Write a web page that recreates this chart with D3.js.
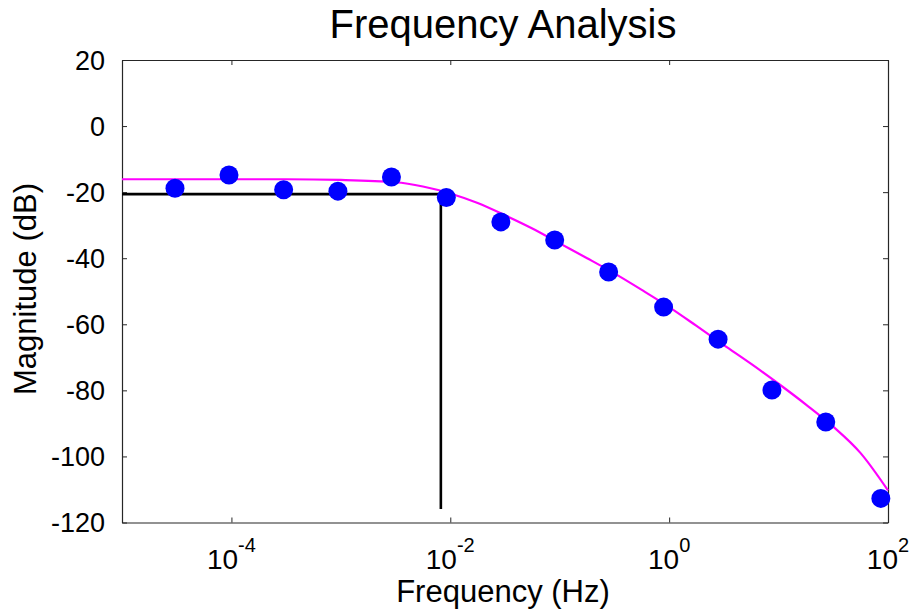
<!DOCTYPE html>
<html lang="en">
<head>
<meta charset="UTF-8">
<title>Frequency Analysis</title>
<script src="https://d3js.org/d3.v7.min.js"></script>
<style>
  body { margin: 0; background: #fff; }
  text { font-family: "Liberation Sans", Arial, sans-serif; fill: #000; }
</style>
</head>
<body>
<script>
// measured points
const measFreq = [3.05e-5, 9.5e-5, 3.0e-4, 9.4e-4, 2.9e-3, 9.2e-3, 2.9e-2, 9.0e-2, 0.28, 0.89, 2.8, 8.7, 27, 86];
const measDb   = [-18.8, -14.8, -19.3, -19.7, -15.4, -21.6, -29.0, -34.5, -44.2, -54.8, -64.5, -79.9, -89.6, -112.7];

// fitted curve (magenta)
const fitFreq = [1e-5, 1e-4, 3.16e-4, 1e-3, 3.16e-3, 5.62e-3, 1e-2, 1.78e-2, 3.16e-2, 5.62e-2, 0.1, 0.178, 0.316, 0.562,
                 1, 1.78, 3.16, 5.62, 10, 17.8, 31.6, 56.2, 100];
const fitDb   = [-16.1, -16.1, -16.1, -16.3, -17.0, -18.3, -20.4, -23.3, -27.0, -31.0, -35.5, -40.0, -44.6, -49.6,
                 -54.8, -60.5, -66.3, -72.0, -78.0, -84.3, -91.0, -99.0, -110.3];

// cutoff marker lines (black)
const cutFreq = [1e-5, 0.0082, 0.0082];
const cutDb   = [-20.6, -20.6, -115.9];

const xTicks = [1e-4, 1e-2, 1, 1e2];
const xTickExp = ["-4", "-2", "0", "2"];
const yTicks = [-120, -100, -80, -60, -40, -20, 0, 20];

const W = 917, H = 613;
const m = { left: 122, right: 888, top: 60, bottom: 522.5 };

const svg = d3.select("body").append("svg")
    .attr("width", W)
    .attr("height", H);

const x = d3.scaleLog().domain([1e-5, 1e2]).range([m.left, m.right]);
const y = d3.scaleLinear().domain([-120, 20]).range([m.bottom, m.top]);

// box axes with inward ticks
const axColor = "#262626";
function styleAxis(g) {
    g.select(".domain").attr("stroke", axColor).attr("stroke-width", 1.2);
    g.selectAll(".tick line").attr("stroke", axColor);
}

svg.append("g")
   .attr("transform", "translate(0," + m.bottom + ")")
   .call(d3.axisBottom(x).tickValues(xTicks).tickSize(-5).tickSizeOuter(0).tickFormat(""))
   .call(styleAxis);
svg.append("g")
   .attr("transform", "translate(0," + m.top + ")")
   .call(d3.axisTop(x).tickValues(xTicks).tickSize(-5).tickSizeOuter(0).tickFormat(""))
   .call(styleAxis);
svg.append("g")
   .attr("transform", "translate(" + m.left + ",0)")
   .call(d3.axisLeft(y).tickValues(yTicks).tickSize(-5).tickSizeOuter(0).tickFormat(""))
   .call(styleAxis);
svg.append("g")
   .attr("transform", "translate(" + m.right + ",0)")
   .call(d3.axisRight(y).tickValues(yTicks).tickSize(-5).tickSizeOuter(0).tickFormat(""))
   .call(styleAxis);

// y tick labels
svg.append("g").selectAll("text")
   .data(yTicks)
   .enter().append("text")
   .attr("x", m.left - 17)
   .attr("y", d => y(d))
   .attr("dy", "0.36em")
   .attr("text-anchor", "end")
   .style("font-size", "27px")
   .text(d => d);

// x tick labels: 10^n
const xl = svg.append("g").selectAll("text")
   .data(xTicks)
   .enter().append("text")
   .attr("x", d => x(d))
   .attr("y", m.bottom + 46)
   .attr("text-anchor", "middle")
   .style("font-size", "28px");
xl.append("tspan").text("10");
xl.append("tspan")
  .attr("dy", -17)
  .style("font-size", "20px")
  .text((d, i) => xTickExp[i]);

// fitted curve
const line = d3.line()
    .x(d => x(d[0]))
    .y(d => y(d[1]))
    .curve(d3.curveMonotoneX);

svg.append("path")
   .datum(fitFreq.map((f, i) => [f, fitDb[i]]))
   .attr("fill", "none")
   .attr("stroke", "#ff00ff")
   .attr("stroke-width", 2.2)
   .attr("d", line);

// cutoff lines
svg.append("path")
   .datum(cutFreq.map((f, i) => [f, cutDb[i]]))
   .attr("fill", "none")
   .attr("stroke", "#000")
   .attr("stroke-width", 2.6)
   .attr("d", d3.line().x(d => x(d[0])).y(d => y(d[1])));

// measured points
svg.append("g").selectAll("circle")
   .data(measFreq.map((f, i) => [f, measDb[i]]))
   .enter().append("circle")
   .attr("cx", d => x(d[0]))
   .attr("cy", d => y(d[1]))
   .attr("r", 9.5)
   .attr("fill", "#0000ff");

// titles
svg.append("text")
   .attr("x", 503)
   .attr("y", 38)
   .attr("text-anchor", "middle")
   .style("font-size", "40px")
   .text("Frequency Analysis");

svg.append("text")
   .attr("x", 503)
   .attr("y", 602)
   .attr("text-anchor", "middle")
   .style("font-size", "31px")
   .text("Frequency (Hz)");

svg.append("text")
   .attr("transform", "translate(36,289) rotate(-90)")
   .attr("text-anchor", "middle")
   .style("font-size", "31px")
   .text("Magnitude (dB)");
</script>
</body>
</html>
